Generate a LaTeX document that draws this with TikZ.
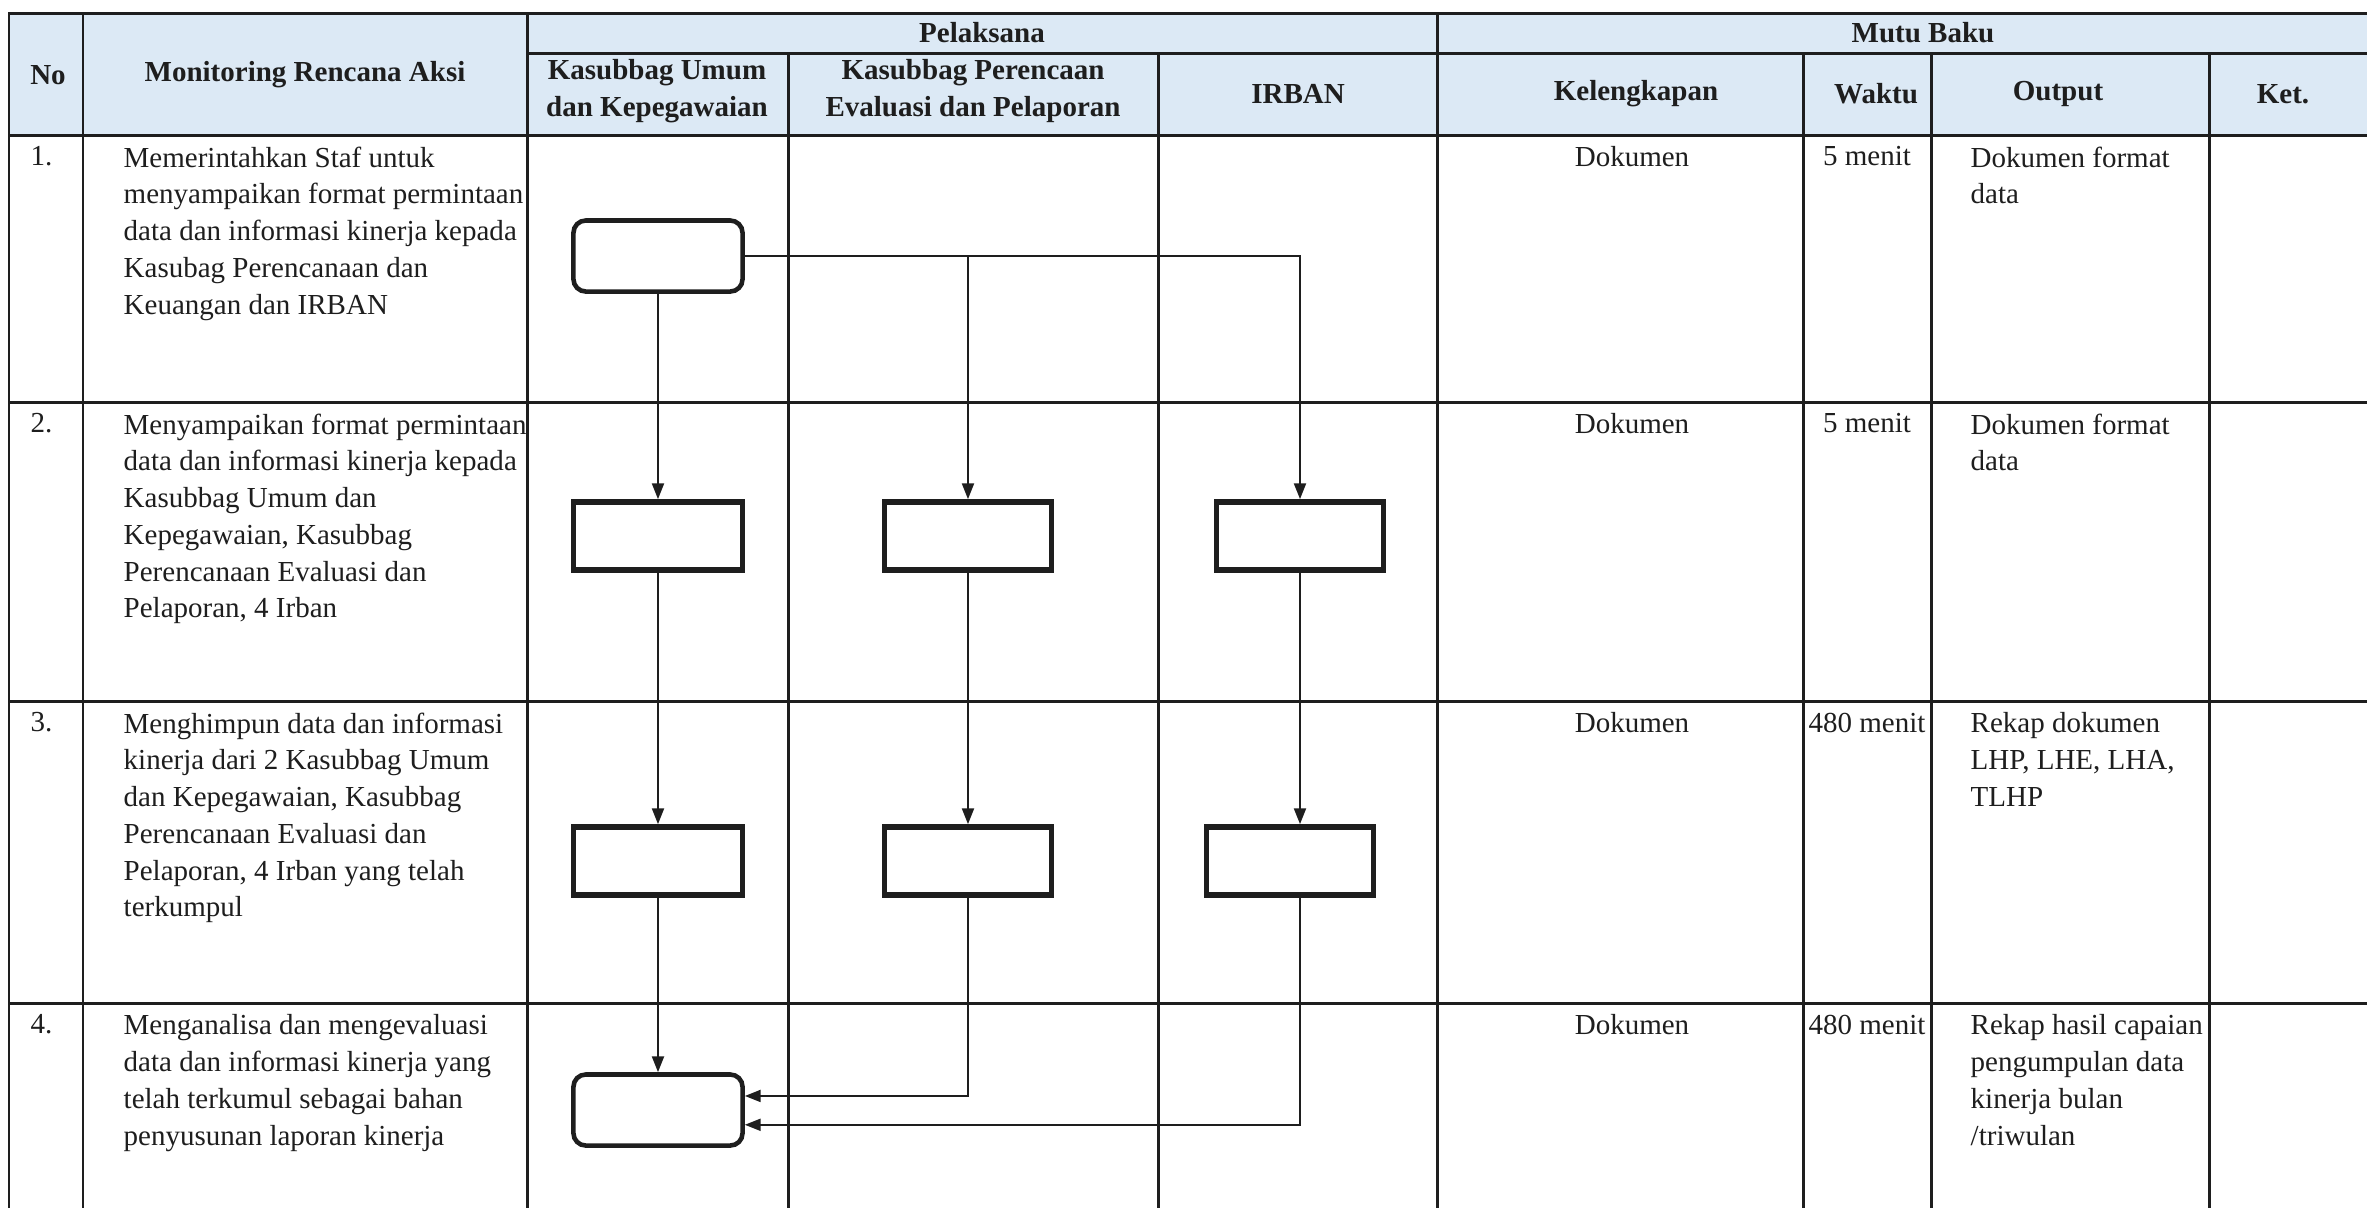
\documentclass[tikz,border=0pt]{standalone}
\usepackage{fontspec}
\setmainfont{Liberation Serif}
\usetikzlibrary{arrows.meta}
\definecolor{hdrblue}{HTML}{DCE9F5}
\definecolor{ink}{HTML}{1E1E1E}
\newcommand{\tabfont}{\fontsize{8.25}{10.45}\selectfont}

\begin{document}
\begin{tikzpicture}[x=0.01cm, y=-0.01cm, >={Triangle[length=4.5pt, width=3.4pt]},
  grid/.style={ink, line width=0.85pt},
  flow/.style={->, ink, line width=0.6pt},
  procbox/.style={draw=ink, fill=white, line width=1.6pt, minimum width=1.67cm, minimum height=0.68cm, inner sep=0pt},
  termbox/.style={procbox, rounded corners=3.5pt, line width=1.3pt, minimum width=1.69cm, minimum height=0.71cm},
  hdr/.style={font=\tabfont\bfseries, align=center, inner sep=0pt, text=ink},
  cell/.style={font=\tabfont, align=left, anchor=north west, inner sep=0pt, text=ink},
  cellc/.style={font=\tabfont, anchor=north, inner sep=0pt, text=ink}]

\useasboundingbox (0,0) rectangle (2367,1208);
\clip (0,0) rectangle (2367,1208);
\fill[white] (0,0) rectangle (2367,1208);

% ========== Table frame ==========
\fill[hdrblue] (9,13) rectangle (2367,135);
\draw[grid] (2367,13) -- (9,13) -- (9,1208);
\draw[grid] (527,53) -- (2367,53);
\draw[grid] (9,135) -- (2367,135);
\draw[grid] (9,402) -- (2367,402);
\draw[grid] (9,701) -- (2367,701);
\draw[grid] (9,1003) -- (2367,1003);

% Columns
\draw[grid] (83,13) -- (83,1208);
\draw[grid] (527,13) -- (527,1208);
\draw[grid] (1437,13) -- (1437,1208);
\draw[grid] (788,53) -- (788,1208);
\draw[grid] (1158,53) -- (1158,1208);
\draw[grid] (1803,53) -- (1803,1208);
\draw[grid] (1931,53) -- (1931,1208);
\draw[grid] (2209,53) -- (2209,1208);

% Header
\node[hdr] (hNo) at (48,75) {No};
\node[hdr] (hAksi) at (305,75) {Monitoring Rencana Aksi};
\node[hdr] (hPel) at (982,33) {Pelaksana};
\node[hdr] (hMutu) at (1923,33) {Mutu Baku};
\node[hdr] (hKU) at (657,91) {Kasubbag Umum\\dan Kepegawaian};
\node[hdr] (hKP) at (973,91) {Kasubbag Perencaan\\Evaluasi dan Pelaporan};
\node[hdr] (hIR) at (1298,94) {IRBAN};
\node[hdr] (hKel) at (1636,94) {Kelengkapan};
\node[hdr] (hWkt) at (1876,94) {Waktu};
\node[hdr] (hOut) at (2058,94) {Output};
\node[hdr] (hKet) at (2283,94) {Ket.};

% ========== Row 1 ==========
\node[cell] (no1) at (30,146) {1.};
\node[cell] (act1) at (123,146) {Memerintahkan Staf untuk\\menyampaikan format permintaan\\data dan informasi kinerja kepada\\Kasubag Perencanaan dan\\Keuangan dan IRBAN};
\node[cellc] (kel1) at (1632,146) {Dokumen};
\node[cellc] (wkt1) at (1867,146) {5 menit};
\node[cell] (out1) at (1970,146) {Dokumen format\\data};

% ========== Row 2 ==========
\node[cell] (no2) at (30,413) {2.};
\node[cell] (act2) at (123,413) {Menyampaikan format permintaan\\data dan informasi kinerja kepada\\Kasubbag Umum dan\\Kepegawaian, Kasubbag\\Perencanaan Evaluasi dan\\Pelaporan, 4 Irban};
\node[cellc] (kel2) at (1632,413) {Dokumen};
\node[cellc] (wkt2) at (1867,413) {5 menit};
\node[cell] (out2) at (1970,413) {Dokumen format\\data};

% ========== Row 3 ==========
\node[cell] (no3) at (30,712) {3.};
\node[cell] (act3) at (123,712) {Menghimpun data dan informasi\\kinerja dari 2 Kasubbag Umum\\dan Kepegawaian, Kasubbag\\Perencanaan Evaluasi dan\\Pelaporan, 4 Irban yang telah\\terkumpul};
\node[cellc] (kel3) at (1632,712) {Dokumen};
\node[cellc] (wkt3) at (1867,712) {480 menit};
\node[cell] (out3) at (1970,712) {Rekap dokumen\\LHP, LHE, LHA,\\TLHP};

% ========== Row 4 ==========
\node[cell] (no4) at (30,1014) {4.};
\node[cell] (act4) at (123,1014) {Menganalisa dan mengevaluasi\\data dan informasi kinerja yang\\telah terkumul sebagai bahan\\penyusunan laporan kinerja};
\node[cellc] (kel4) at (1632,1014) {Dokumen};
\node[cellc] (wkt4) at (1867,1014) {480 menit};
\node[cell] (out4) at (1970,1014) {Rekap hasil capaian\\pengumpulan data\\kinerja bulan\\/triwulan};

% ========== Flow ==========
\node[termbox] (start) at (658,256) {};
\node[procbox, minimum width=1.69cm] (kuB) at (658,536) {};
\node[procbox] (kpB) at (968,536) {};
\node[procbox] (irB) at (1300,536) {};
\node[procbox, minimum width=1.69cm] (kuC) at (658,861) {};
\node[procbox] (kpC) at (968,861) {};
\node[procbox] (irC) at (1290,861) {};
\node[termbox] (finish) at (658,1110) {};

\draw[flow] (start) -- (kuB);
\draw[flow] (start.east) -| (irB);
\draw[flow] (start.east -| kpB) -- (kpB);

\draw[flow] (kuB) -- (kuC);
\draw[flow] (kpB) -- (kpC);
\draw[flow] (irB.south) -- (irB.south |- irC.north);

\draw[flow] (kuC) -- (finish);
\draw[flow] (kpC.south) |- ([yshift=4pt]finish.east);
\draw[flow] (irB |- irC.south) |- ([yshift=-4.2pt]finish.east);

\end{tikzpicture}
\end{document}
